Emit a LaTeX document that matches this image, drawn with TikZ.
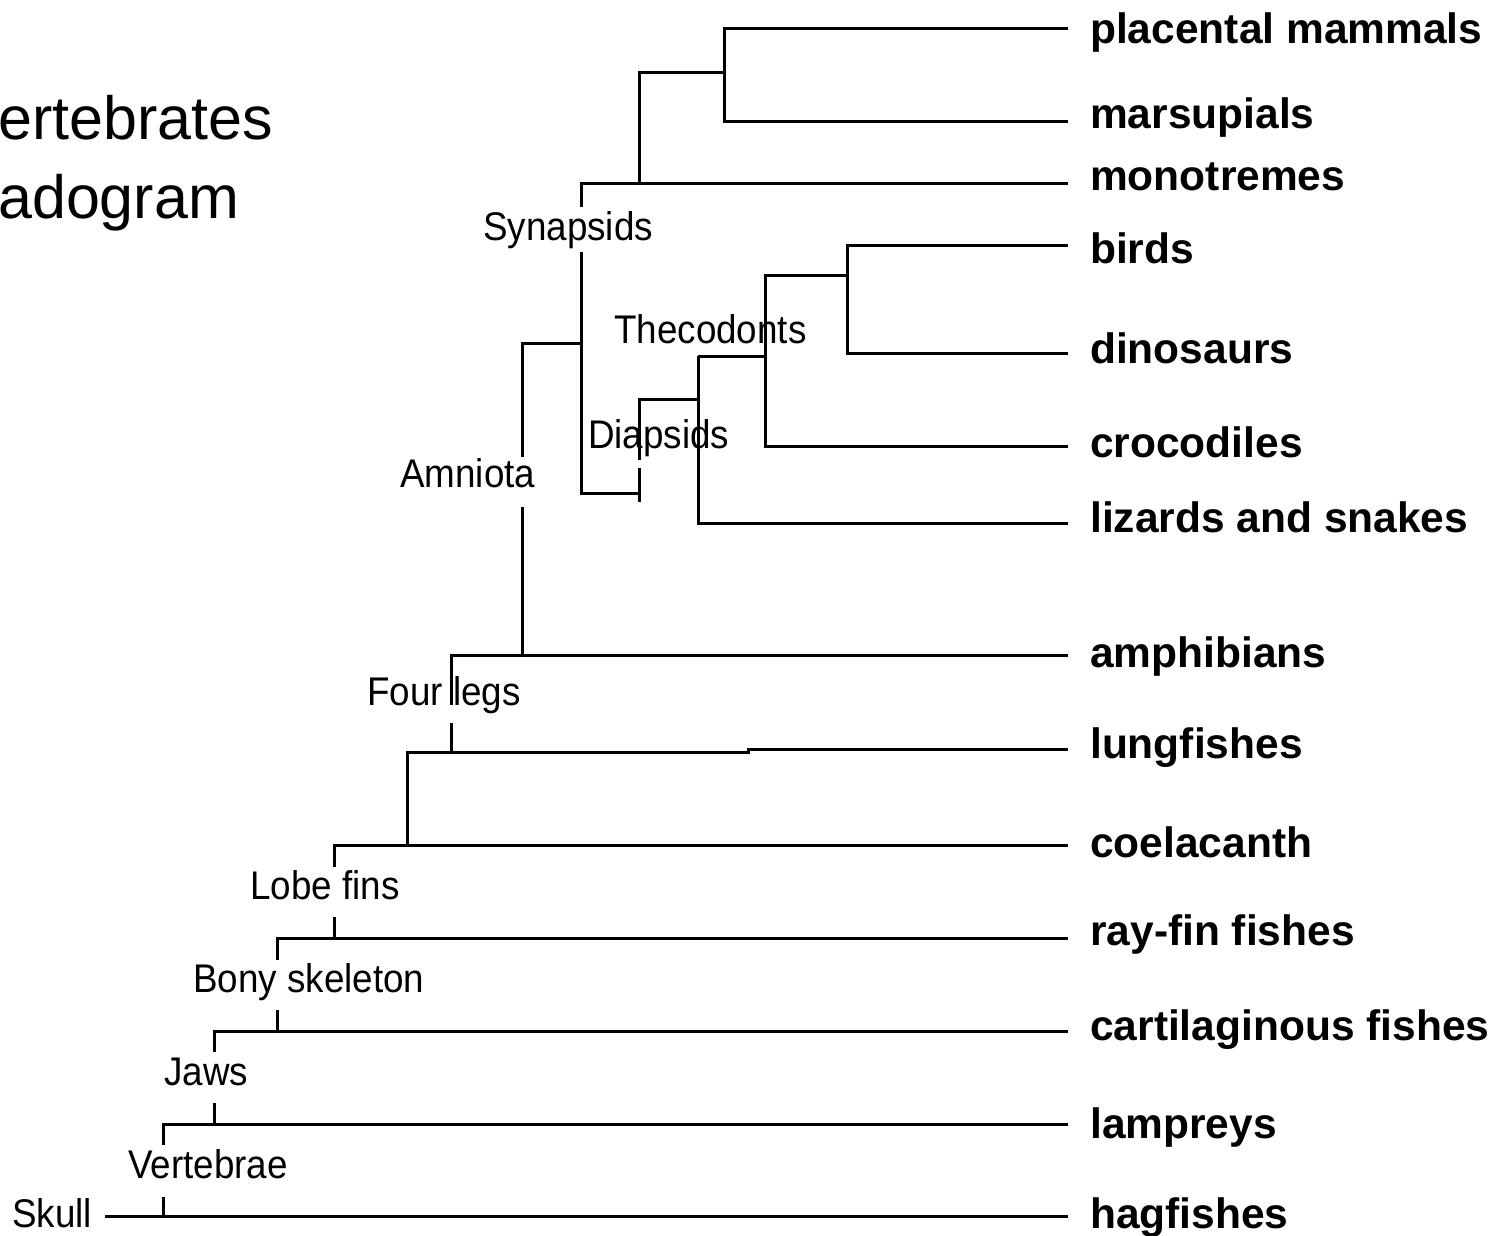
\documentclass[tikz,border=0pt]{standalone}
\usepackage{fontspec}
\setmainfont{Liberation Sans}
\newfontfamily\cladefont[FakeStretch=0.92]{Liberation Sans}
\begin{document}
\begin{tikzpicture}[x=1pt,y=-1pt,
  br/.style={line width=3pt, line join=miter, black},
  leaf/.style={font=\fontsize{42.5}{42.5}\selectfont\bfseries, anchor=base west, inner sep=0pt},
  clade/.style={font=\cladefont\fontsize{40}{40}\selectfont, anchor=base west, inner sep=0pt},
  ttl/.style={font=\fontsize{61}{61}\selectfont, anchor=base west, inner sep=0pt}]
\useasboundingbox (0,0) rectangle (1494,1235);
\fill[white] (0,0) rectangle (1494,1235);

% title (cut at left edge)
\node[ttl] (t1) at (-2,139) {ertebrates};
\node[ttl] (t2) at (-2,218) {adogram};

% leaf ends
\coordinate (ePlac) at (1068,28);
\coordinate (eMars) at (1068,121);
\coordinate (eMono) at (1068,183);
\coordinate (eBird) at (1068,245);
\coordinate (eDino) at (1068,353);
\coordinate (eCroc) at (1068,446);
\coordinate (eLiz)  at (1068,523);
\coordinate (eAmph) at (1068,655);
\coordinate (eLung) at (1068,749);
\coordinate (eCoel) at (1068,845);
\coordinate (eRay)  at (1068,938);
\coordinate (eCart) at (1068,1031);
\coordinate (eLamp) at (1068,1124);
\coordinate (eHag)  at (1068,1216);

% internal points
\coordinate (pPlac) at (724,28);
\coordinate (pMars) at (724,121);
\coordinate (jMam)  at (724,72);
\coordinate (jTher) at (639,72);
\coordinate (jMono) at (639,183);
\coordinate (jSyn)  at (581,183);
\coordinate (gSynA) at (581,207);
\coordinate (gSynB) at (581,252);
\coordinate (jAmn)  at (581,343);
\coordinate (jSD)   at (581,493);
\coordinate (jDb)   at (639,493);
\coordinate (gDiaC) at (639,502);
\coordinate (gDiaB) at (639,468);
\coordinate (gDiaA) at (639,460);
\coordinate (jDia)  at (639,399);
\coordinate (jLz)   at (698,399);
\coordinate (jLzT)  at (698,356);
\coordinate (jLzB)  at (698,523);
\coordinate (jThc)  at (765,356);
\coordinate (jThcT) at (765,275);
\coordinate (jThcB) at (765,446);
\coordinate (jBD)   at (847,275);
\coordinate (pBird) at (847,245);
\coordinate (pDino) at (847,353);
\coordinate (aTop)  at (522,343);
\coordinate (gAmnA) at (522,457);
\coordinate (gAmnB) at (522,507);
\coordinate (jAmph) at (522,655);
\coordinate (jFour) at (451,655);
\coordinate (gFourA) at (451,705);
\coordinate (gFourB) at (451,723);
\coordinate (jFourB) at (451,752);
\coordinate (jLung) at (407,752);
\coordinate (sLungA) at (748,752);
\coordinate (sLungB) at (748,749);
\coordinate (jCoel) at (407,845);
\coordinate (jLobe) at (334,845);
\coordinate (gLobeA) at (334,867);
\coordinate (gLobeB) at (334,917);
\coordinate (jLobeB) at (334,938);
\coordinate (jBony) at (277,938);
\coordinate (gBonyA) at (277,960);
\coordinate (gBonyB) at (277,1010);
\coordinate (jBonyB) at (277,1031);
\coordinate (jJaw) at (214,1031);
\coordinate (gJawA) at (214,1052);
\coordinate (gJawB) at (214,1103);
\coordinate (jJawB) at (214,1124);
\coordinate (jVert) at (163,1124);
\coordinate (gVertA) at (163,1145);
\coordinate (gVertB) at (163,1197);
\coordinate (jVertB) at (163,1216);
\coordinate (sSkull) at (105,1216);

% branches
\draw[br] (ePlac) -- (pPlac) -- (pMars) -- (eMars);
\draw[br] (jMam) -- (jTher) -- (jMono);
\draw[br] (eMono) -- (jSyn) -- (gSynA);
\draw[br] (gSynB) -- (jSD) -- (jDb);
\draw[br] (jDb) -- (gDiaC);
\draw[br] (jDb) -- (gDiaB);
\draw[br] (gDiaA) -- (jDia) -- (jLz);
\draw[br] (jLzT) -- (jLzB) -- (eLiz);
\draw[br] (jLzT) -- (jThc);
\draw[br] (jBD) -- (jThcT) -- (jThcB) -- (eCroc);
\draw[br] (eBird) -- (pBird) -- (pDino) -- (eDino);
\draw[br] (jAmn) -- (aTop) -- (gAmnA);
\draw[br] (gAmnB) -- (jAmph);
\draw[br] (eAmph) -- (jFour) -- (gFourA);
\draw[br] (gFourB) -- (jFourB);
\draw[br] (eLung) -- (sLungB) -- (sLungA) -- (jLung) -- (jCoel);
\draw[br] (eCoel) -- (jLobe) -- (gLobeA);
\draw[br] (gLobeB) -- (jLobeB);
\draw[br] (eRay) -- (jBony) -- (gBonyA);
\draw[br] (gBonyB) -- (jBonyB);
\draw[br] (eCart) -- (jJaw) -- (gJawA);
\draw[br] (gJawB) -- (jJawB);
\draw[br] (eLamp) -- (jVert) -- (gVertA);
\draw[br] (gVertB) -- (jVertB);
\draw[br] (eHag) -- (sSkull);

% clade labels
\node[clade] (lSkull) at (12,1227) {Skull};
\node[clade] (lVert) at (128,1178) {Vertebrae};
\node[clade] (lJaws) at (164,1085) {Jaws};
\node[clade] (lBony) at (193,992) {Bony skeleton};
\node[clade] (lLobe) at (250,899) {Lobe fins};
\node[clade] (lFour) at (367,705) {Four legs};
\node[clade] (lAmn) at (400,487) {Amniota};
\node[clade] (lSyn) at (483,240) {Synapsids};
\node[clade] (lThc) at (614,343) {Thecodonts};
\node[clade] (lDia) at (588,448) {Diapsids};

% leaf labels
\node[leaf] (nPlac) at (1090,43) {placental mammals};
\node[leaf] (nMars) at (1090,128) {marsupials};
\node[leaf] (nMono) at (1090,190) {monotremes};
\node[leaf] (nBird) at (1090,263) {birds};
\node[leaf] (nDino) at (1090,363) {dinosaurs};
\node[leaf] (nCroc) at (1090,457) {crocodiles};
\node[leaf] (nLiz)  at (1090,532) {lizards and snakes};
\node[leaf] (nAmph) at (1090,667) {amphibians};
\node[leaf] (nLung) at (1090,758) {lungfishes};
\node[leaf] (nCoel) at (1090,857) {coelacanth};
\node[leaf] (nRay)  at (1090,945) {ray-fin fishes};
\node[leaf] (nCart) at (1090,1040) {cartilaginous fishes};
\node[leaf] (nLamp) at (1090,1138) {lampreys};
\node[leaf] (nHag)  at (1090,1228) {hagfishes};
\end{tikzpicture}
\end{document}
